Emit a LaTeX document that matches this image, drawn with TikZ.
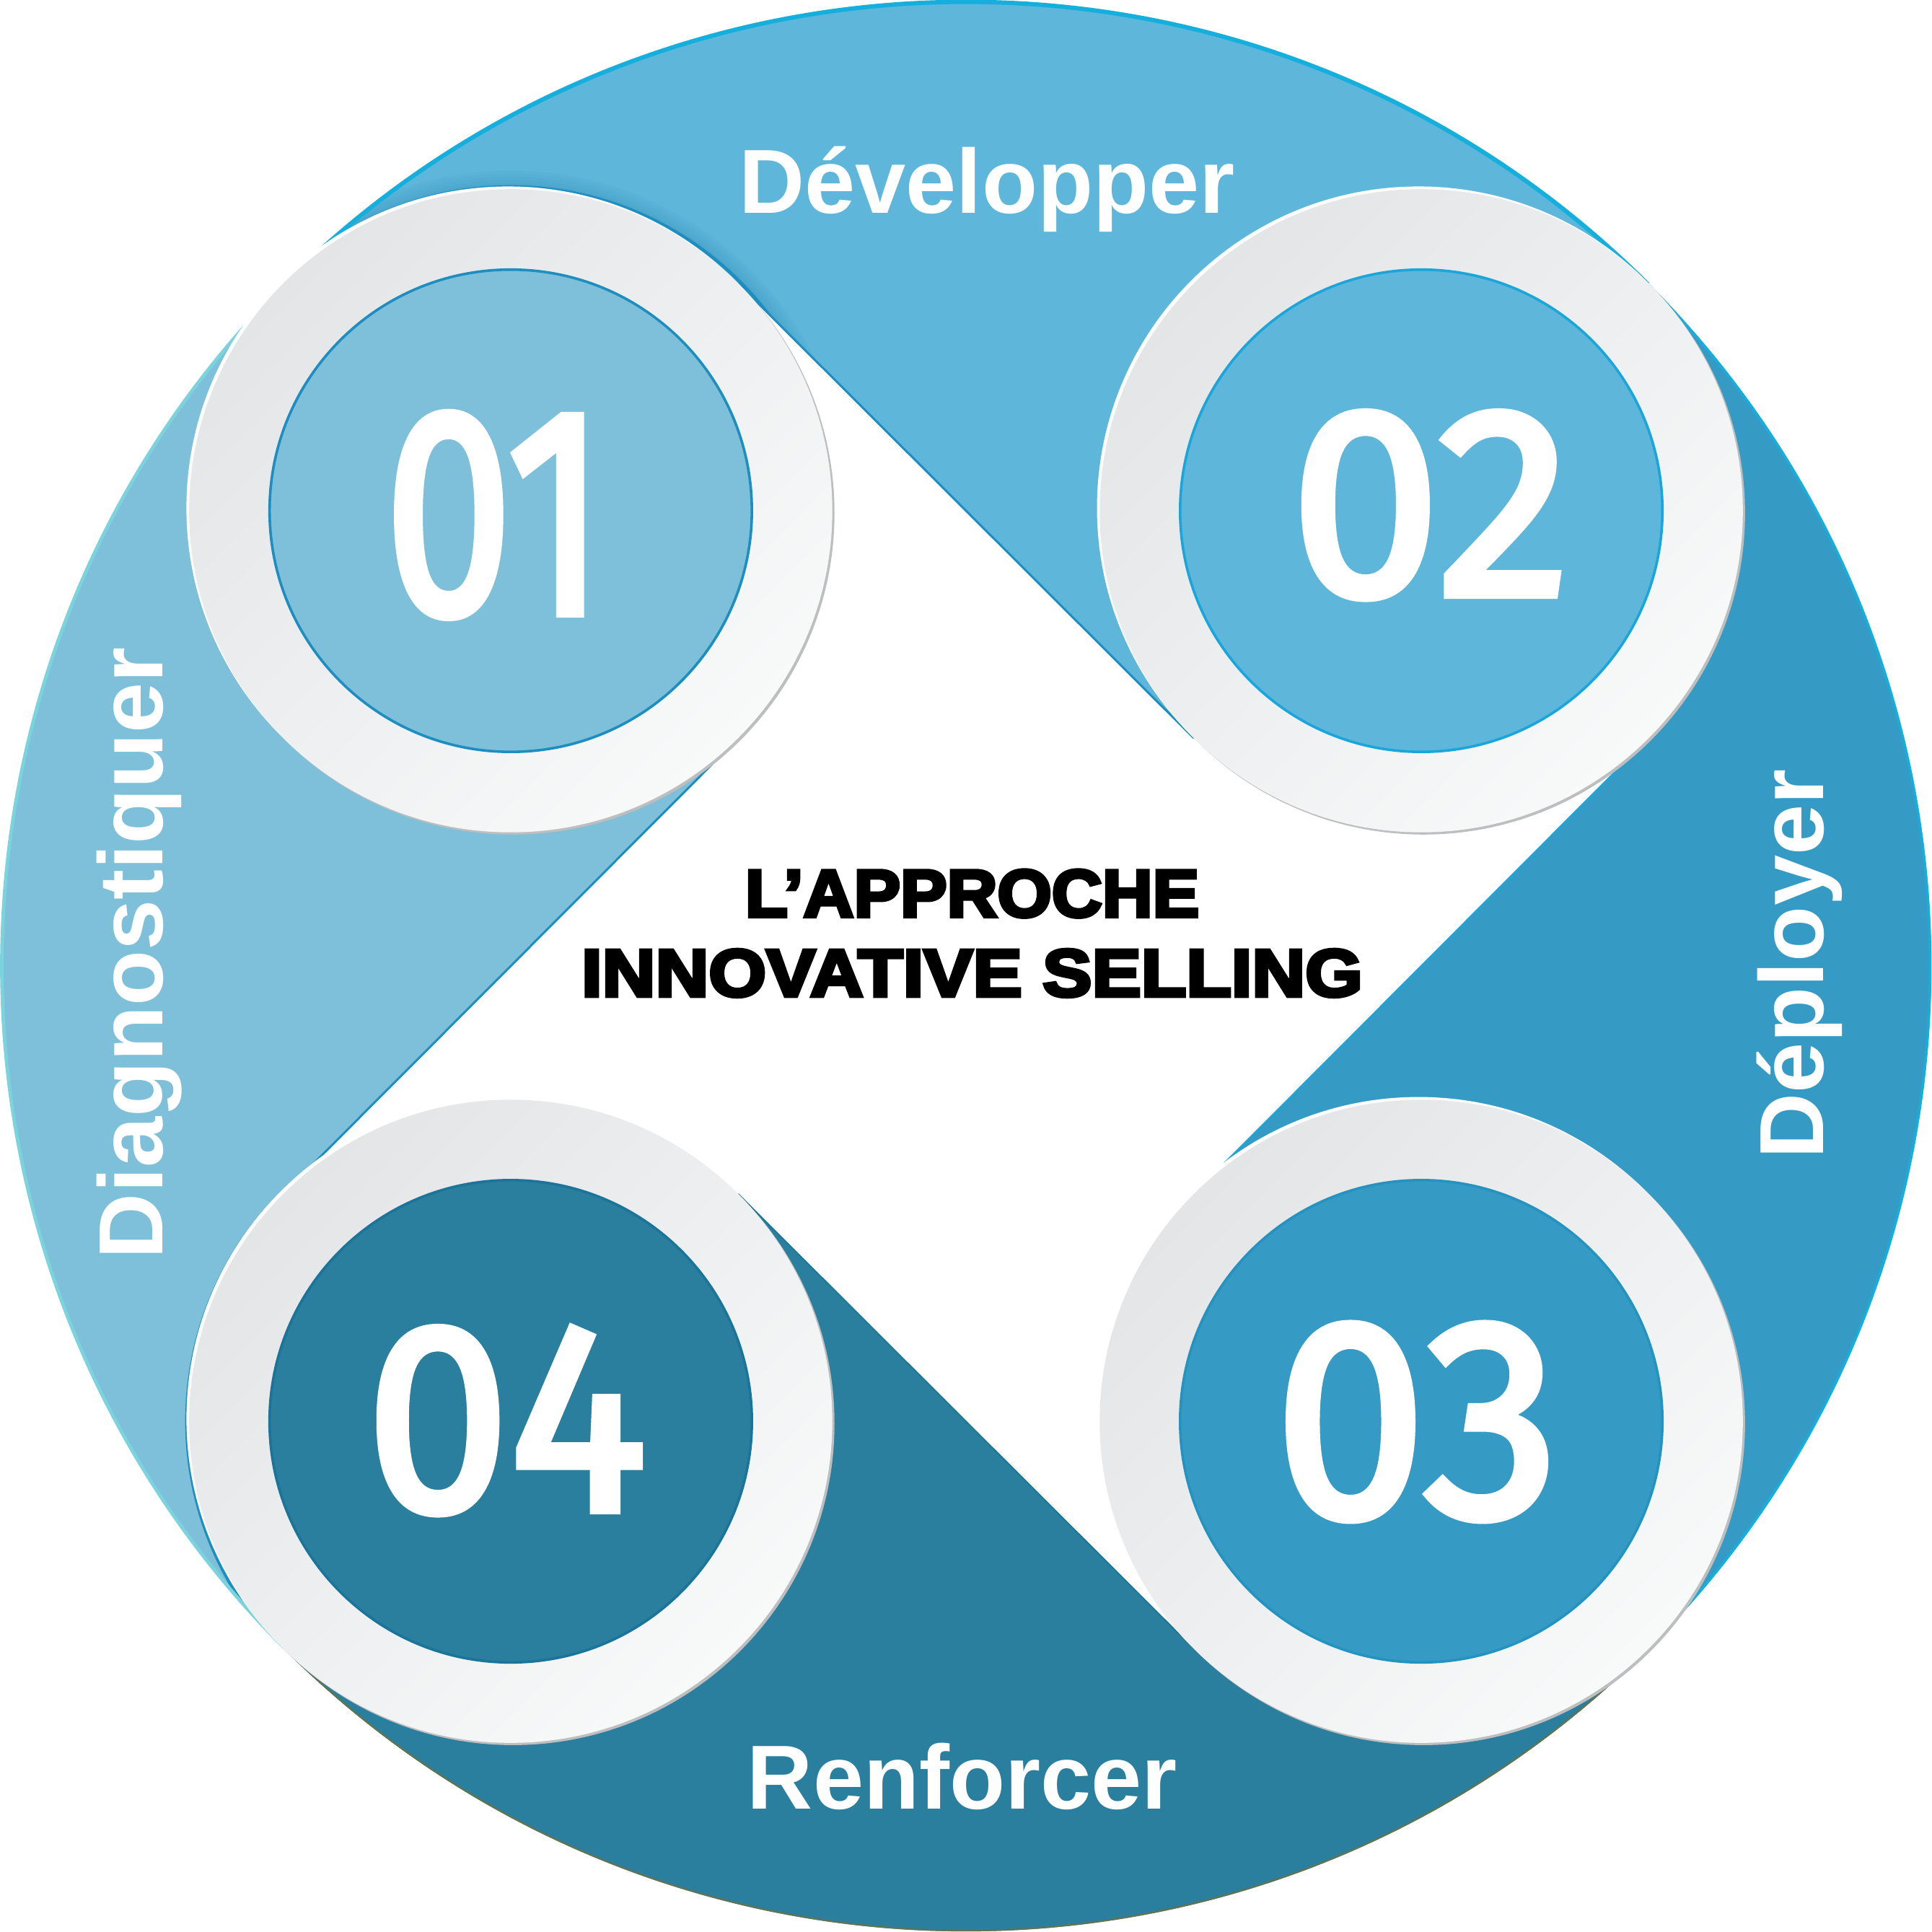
\documentclass[tikz,border=0pt]{standalone}
\usepackage{fontspec}
\setmainfont{Liberation Sans}
\newfontfamily\labelfont{Liberation Sans}
\newfontfamily\headfont{Liberation Sans}[BoldFeatures={FakeBold=5}]
\newfontfamily\numfont{Fira Sans}[FakeBold=3]
\usetikzlibrary{calc}
\definecolor{topblue}{HTML}{5EB7DB}
\definecolor{rightblue}{HTML}{369BC4}
\definecolor{bottomblue}{HTML}{2A7E9E}
\definecolor{leftblue}{HTML}{7EC0DA}
\definecolor{ringA}{HTML}{E4E5E7}
\definecolor{ringB}{HTML}{F8F9F9}
\definecolor{ringshadow}{HTML}{BCBEC0}
\definecolor{edgecyan}{HTML}{14AFDD}
\definecolor{edgelight}{HTML}{7BD3DE}
\definecolor{edgedark}{HTML}{5E7455}
\definecolor{rimone}{HTML}{1E8EC0}
\definecolor{rimtwo}{HTML}{1AA6DA}
\definecolor{rimthree}{HTML}{2593C0}
\definecolor{rimfour}{HTML}{1B7499}
\definecolor{shadowblue}{HTML}{2F86AE}
\tikzset{
  lbl/.style={text=white, inner sep=0pt, font=\labelfont\bfseries\fontsize{21}{25}\selectfont},
  head/.style={text=black, inner sep=0pt, font=\headfont\bfseries\fontsize{15.5}{18}\selectfont},
  num/.style={text=white, inner sep=0pt, font=\numfont\fontsize{66}{70}\selectfont},
  rim/.style={line width=0.6pt}
}
\begin{document}
\begin{tikzpicture}[x=0.01cm,y=0.01cm]
\useasboundingbox (-784,-784) rectangle (784,784);
% circle centres
\coordinate (c1) at (-369.5,369.5);
\coordinate (c2) at (369.5,369.5);
\coordinate (c3) at (369.5,-369.5);
\coordinate (c4) at (-369.5,-369.5);
% tangent points of the four straight edges
\coordinate (t1a) at ($(c1)+(45:261)$);
\coordinate (t2a) at ($(c2)+(225:261)$);
\coordinate (t2b) at ($(c2)+(-45:261)$);
\coordinate (t3a) at ($(c3)+(135:261)$);
\coordinate (t3b) at ($(c3)+(225:261)$);
\coordinate (t4a) at ($(c4)+(45:261)$);
\coordinate (t4b) at ($(c4)+(135:261)$);
\coordinate (t1b) at ($(c1)+(-45:261)$);
% blades
\fill[topblue] (135:783.5) arc[start angle=135,end angle=45,radius=783.5] -- (c2) -- (t2a) -- (t1a) -- (c1) -- cycle;
\fill[rightblue] (45:783.5) arc[start angle=45,end angle=-45,radius=783.5] -- (c3) -- (t3a) -- (t2b) -- (c2) -- cycle;
\fill[bottomblue] (-45:783.5) arc[start angle=-45,end angle=-135,radius=783.5] -- (c4) -- (t4a) -- (t3b) -- (c3) -- cycle;
\fill[leftblue] (225:783.5) arc[start angle=225,end angle=135,radius=783.5] -- (c1) -- (t1b) -- (t4b) -- (c4) -- cycle;
% thin soft shadow of ring 01 on the top blade
\begin{scope}
  \clip (135:783.5) arc[start angle=135,end angle=45,radius=783.5] -- (c2) -- (t2a) -- (t1a) -- (c1) -- cycle;
  \foreach \k in {1,...,6}{
    \fill[shadowblue, opacity=0.07] (c1) circle[radius=261+2.5*\k];
  }
  \draw[rimone, line width=0.7pt] (c1) circle[radius=263];
\end{scope}
% thin dark edge of ring 04 on the left blade
\begin{scope}
  \clip (225:783.5) arc[start angle=225,end angle=135,radius=783.5] -- (c1) -- (t1b) -- (t4b) -- (c4) -- cycle;
  \draw[rimone, line width=0.7pt] (c4) circle[radius=263];
\end{scope}
% outer edges
\draw[edgecyan, line width=1pt] (135:782.5) arc[start angle=135,end angle=45,radius=782.5];
\draw[edgecyan, line width=0.6pt] (45:782.5) arc[start angle=45,end angle=-45,radius=782.5];
\draw[edgedark, line width=0.4pt] (-45:782.8) arc[start angle=-45,end angle=-135,radius=782.8];
\draw[edgelight, line width=0.8pt] (225:782.5) arc[start angle=225,end angle=135,radius=782.5];
% edge lines of the blades
\draw[rimone, line width=0.5pt] (t1a) -- (t2a);
\draw[rimtwo, line width=0.4pt] (t2b) -- (t3a);
\draw[rimfour, line width=0.3pt] (t3b) -- (t4a);
\draw[rimone, line width=0.5pt] (t1b) -- (t4b);
% rings
\foreach \cc/\col/\rc in {c1/leftblue/rimone, c2/topblue/rimtwo, c3/rightblue/rimthree, c4/bottomblue/rimfour}{
  \fill[ringshadow] ($(\cc)+(1.8,-1.8)$) circle[radius=261];
  \fill[white] ($(\cc)+(-2.2,2.2)$) circle[radius=261];
  \shade[top color=ringA, bottom color=ringB, shading angle=45] (\cc) circle[radius=261];
  \fill[\col] (\cc) circle[radius=196];
  \draw[\rc, rim] (\cc) circle[radius=195.7];
}
% numbers
\node[num] (n1) at (-382,366) {\scalebox{0.80}[1.03]{01}};
\node[num] (n2) at (377,374) {\scalebox{0.94}[0.94]{02}};
\node[num] (n3) at (366,-370) {\scalebox{0.95}[0.99]{03}};
\node[num] (n4) at (-373,-369) {\scalebox{0.90}[0.94]{04}};
% labels
\node[lbl, anchor=base] (dev) at (17,611) {Développer};
\node[lbl, anchor=base] (ren) at (-3,-684) {Renforcer};
\node[lbl, anchor=base, rotate=90] (diag) at (-652,10.5) {Diagnostiquer};
\node[lbl, anchor=base, rotate=90] (depl) at (696,1.5) {Déployer};
% heading
\node[head, anchor=base] (h1) at (5,40) {\scalebox{1.04}[1]{L’APPROCHE}};
\node[head, anchor=base] (h2) at (5,-24.6) {\scalebox{1.10}[1]{INNOVATIVE SELLING}};
\end{tikzpicture}
\end{document}
